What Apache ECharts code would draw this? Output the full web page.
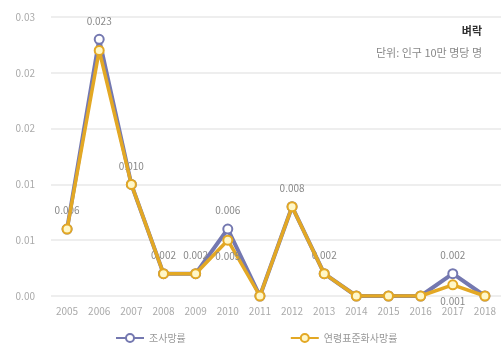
<!DOCTYPE html>
<html><head><meta charset="utf-8">
<script src="https://cdn.jsdelivr.net/npm/echarts@6/dist/echarts.min.js"></script>
<style>html,body{margin:0;padding:0;background:#fff}#c{width:501px;height:352px}</style>
</head><body><div id="c"></div>
<script>
const years = ['2005','2006','2007','2008','2009','2010','2011','2012','2013','2014','2015','2016','2017','2018'];
const crudeRate = [0.006,0.023,0.010,0.002,0.002,0.006,0,0.008,0.002,0,0,0,0.002,0];
const ageStdRate = [0.006,0.022,0.010,0.002,0.002,0.005,0,0.008,0.002,0,0,0,0.001,0];
const orangeLabelYears = ['2010','2017'];
const yTickLabels = ['0.00','0.01','0.01','0.02','0.02','0.03'];
const seriesNames = ['조사망률','연령표준화사망률'];
const titleText = '벼락';
const subText = '단위: 인구 10만 명당 명';

const chart = echarts.init(document.getElementById('c'));
const font = 'Noto Sans CJK KR';
chart.setOption({
  animation:false,
  textStyle:{fontFamily:font},
  title:[
    {text:titleText, right:14, top:20,
      textStyle:{fontSize:11,fontWeight:'bold',color:'#333',fontFamily:font}},
    {text:subText, right:14, top:42,
      textStyle:{fontSize:11,fontWeight:'normal',color:'#888',fontFamily:font}}
  ],
  grid:{left:51, width:452, top:17, bottom:56},
  legend:{bottom:4, left:110, itemGap:104, itemWidth:28, itemHeight:10,
    textStyle:{fontSize:10,color:'#999',fontFamily:font},
    data:seriesNames},
  xAxis:{type:'category', data:years, boundaryGap:true,
    axisLine:{show:false}, axisTick:{show:false},
    axisLabel:{color:'#aaa',fontSize:10,margin:10,interval:0}},
  yAxis:{type:'value', min:0, max:0.025, interval:0.005,
    axisLabel:{color:'#aaa',fontSize:10,margin:16,
      formatter:(v)=>yTickLabels[Math.round(v/0.005)]},
    splitLine:{lineStyle:{color:'#eee',width:2}}},
  series:[
    {name:seriesNames[0], type:'line', data:crudeRate, z:2,
      symbol:'circle', symbolSize:9,
      lineStyle:{color:'#7478b0',width:4},
      itemStyle:{color:'#fff',borderColor:'#7478b0',borderWidth:2},
      label:{show:true,position:'top',distance:8,color:'#888',fontSize:10,
        formatter:(p)=> p.value===0?'':p.value.toFixed(3)}},
    {name:seriesNames[1], type:'line', data:ageStdRate, z:3,
      symbol:'circle', symbolSize:9,
      lineStyle:{color:'#e3a824',width:3.5},
      itemStyle:{color:'#fff7c8',borderColor:'#e3a824',borderWidth:2},
      label:{show:true,position:'bottom',distance:6,color:'#888',fontSize:10,
        formatter:(p)=> orangeLabelYears.includes(p.name)?p.value.toFixed(3):''}}
  ]
});
</script></body></html>
